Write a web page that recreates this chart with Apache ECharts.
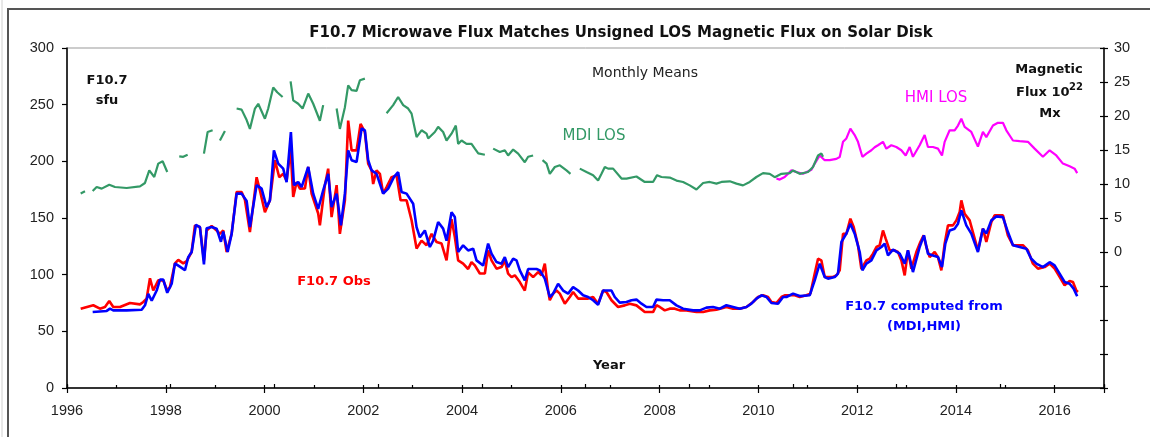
<!DOCTYPE html>
<html><head><meta charset="utf-8">
<script src="https://cdn.jsdelivr.net/npm/echarts@6/dist/echarts.min.js"></script>
<style>html,body{margin:0;padding:0;background:#fff}#c{width:1150px;height:437px}</style>
</head><body><div id="c"></div>
<script>
// ---- data (decimal year, value) ----
const obsT=[1996.277,1996.532,1996.668,1996.769,1996.856,1996.937,1997.073,1997.275,1997.478,1997.545,
1997.613,1997.68,1997.747,1997.848,1997.949,1998.03,1998.085,1998.186,1998.253,1998.354,
1998.423,1998.524,1998.591,1998.692,1998.773,1998.828,1998.929,1999.03,1999.097,1999.164,
1999.233,1999.265,1999.334,1999.435,1999.536,1999.603,1999.704,1999.84,1999.907,2000.008,
2000.109,2000.211,2000.298,2000.379,2000.447,2000.528,2000.581,2000.65,2000.717,2000.818,
2000.885,2000.953,2001.087,2001.121,2001.223,2001.289,2001.358,2001.46,2001.526,2001.628,
2001.694,2001.763,2001.864,2001.945,2002.032,2002.099,2002.168,2002.2,2002.269,2002.336,
2002.403,2002.472,2002.573,2002.674,2002.755,2002.877,2002.978,2003.079,2003.18,2003.281,
2003.383,2003.484,2003.585,2003.686,2003.787,2003.854,2003.921,2004.022,2004.123,2004.192,
2004.259,2004.36,2004.462,2004.528,2004.597,2004.698,2004.8,2004.866,2004.933,2005.002,
2005.069,2005.17,2005.271,2005.338,2005.439,2005.54,2005.609,2005.676,2005.743,2005.777,
2005.844,2005.913,2005.98,2006.081,2006.182,2006.249,2006.35,2006.553,2006.654,2006.755,
2006.856,2006.924,2007.026,2007.16,2007.296,2007.397,2007.532,2007.7,2007.868,2007.937,
2008.004,2008.105,2008.206,2008.308,2008.409,2008.545,2008.747,2008.881,2009.016,2009.152,
2009.354,2009.488,2009.623,2009.759,2009.893,2009.994,2010.095,2010.196,2010.265,2010.366,
2010.468,2010.534,2010.636,2010.737,2010.838,2010.973,2011.055,2011.142,2011.209,2011.277,
2011.344,2011.512,2011.581,2011.648,2011.715,2011.783,2011.864,2011.931,2012.018,2012.087,
2012.188,2012.255,2012.322,2012.391,2012.457,2012.524,2012.579,2012.66,2012.761,2012.828,
2012.897,2012.964,2013.03,2013.099,2013.2,2013.281,2013.348,2013.403,2013.47,2013.571,
2013.638,2013.706,2013.773,2013.84,2013.941,2014.01,2014.077,2014.111,2014.178,2014.279,
2014.447,2014.548,2014.617,2014.718,2014.785,2014.953,2015.054,2015.156,2015.358,2015.46,
2015.561,2015.662,2015.798,2015.899,2016.0,2016.101,2016.202,2016.304,2016.371,2016.439,
2016.472];
const obsV=[70,73,70,71.5,76.7,71.5,71.5,75,73.8,75.9,
78.9,96.8,86,95,95,86,89,110,113,110,
112,120,143.5,142,112.6,139,143,139,136,139,
120,118.5,136,173,173,166,137.6,186,174.4,155,
165.6,201,186,189,183,211,168.5,181.7,175.9,176,
195,171.5,154,143.5,179,193.5,150.8,179,136,165.6,
236,209.7,209.7,233,225.8,198,192,180,192,189,
171.5,177.3,186,187.6,165.6,165.6,148,123,130,125.9,
136,128.8,127.4,112.6,149,133.2,112.6,109.7,105,111.1,
108.2,101,101,121.4,112.6,105.3,106.7,112.6,100.9,97.9,
99.4,93.5,86,102,97.9,102.3,99.4,109.7,86,77.4,
83.3,86,83.3,74.4,80.3,84.7,78.9,78.9,80.3,74.4,
86,84.7,77.4,71.5,72.9,74.4,72.9,67,67,73,
71.5,68.5,70,70,68.5,68.5,67,67,68.5,69.1,
71.5,70,70,71.5,75.9,80.3,81.8,80.3,75.9,75,
80.3,81.8,81.8,81.8,80.3,81.8,83.3,101,114,112.6,
98,98,99.4,103.8,136,136,149.4,142,126,105,
112.6,114.1,118.5,124.4,125.9,139,131.8,121.4,121.4,120,
112.6,99.4,121.4,105.3,120,128.8,134.7,124.4,115.5,120,
115.5,103.8,127.4,143.5,143.5,147.9,155.2,165.6,153.8,147.9,
121.4,140.6,128.8,146.4,152.3,152.3,134.7,126,126,121.4,
109.7,105.3,106.7,109.7,105.3,98,90.6,94.4,93.5,86,
84.7];

const compT=[1996.52,1996.804,1996.87,1996.937,1997.208,1997.512,1997.579,1997.646,1997.715,1997.816,
1997.883,1997.949,1998.03,1998.12,1998.186,1998.389,1998.455,1998.524,1998.611,1998.692,
1998.773,1998.828,1998.929,1999.03,1999.117,1999.164,1999.253,1999.334,1999.435,1999.536,
1999.638,1999.704,1999.84,1999.941,2000.042,2000.109,2000.19,2000.277,2000.379,2000.447,
2000.534,2000.595,2000.682,2000.751,2000.885,2000.986,2001.087,2001.188,2001.289,2001.358,
2001.46,2001.547,2001.628,2001.694,2001.763,2001.864,2001.966,2002.032,2002.099,2002.168,
2002.269,2002.403,2002.504,2002.619,2002.706,2002.775,2002.877,2003.01,2003.079,2003.146,
2003.247,2003.348,2003.415,2003.516,2003.617,2003.686,2003.787,2003.854,2003.921,2004.022,
2004.123,2004.225,2004.293,2004.427,2004.528,2004.597,2004.698,2004.8,2004.866,2004.933,
2005.035,2005.103,2005.17,2005.271,2005.338,2005.508,2005.575,2005.676,2005.777,2005.844,
2005.945,2006.047,2006.148,2006.249,2006.35,2006.451,2006.553,2006.654,2006.755,2006.856,
2006.891,2007.026,2007.093,2007.194,2007.33,2007.431,2007.532,2007.634,2007.735,2007.868,
2007.937,2008.071,2008.206,2008.342,2008.476,2008.679,2008.814,2008.949,2009.083,2009.219,
2009.354,2009.488,2009.623,2009.759,2009.86,2009.961,2010.063,2010.164,2010.265,2010.399,
2010.502,2010.569,2010.704,2010.838,2011.04,2011.142,2011.243,2011.344,2011.411,2011.547,
2011.613,2011.682,2011.783,2011.864,2011.951,2012.053,2012.107,2012.188,2012.289,2012.391,
2012.492,2012.559,2012.626,2012.727,2012.862,2012.964,2013.03,2013.131,2013.267,2013.354,
2013.435,2013.536,2013.638,2013.719,2013.787,2013.874,2013.976,2014.043,2014.111,2014.212,
2014.313,2014.447,2014.548,2014.617,2014.718,2014.819,2014.953,2015.054,2015.156,2015.291,
2015.427,2015.528,2015.629,2015.763,2015.899,2016.0,2016.101,2016.202,2016.304,2016.385,
2016.457];
const compV=[67,68,70,68.5,68.5,69.1,73,83,77,86,
95.6,95.6,84,92,110,104,115.5,120,144,142,
109,141,142,140.6,129,138,120,136,171.5,171.5,
165,142,179,175.9,159.6,165.6,209.7,198,193.5,181.7,
225.8,179,181.7,177.3,195,171.5,158,174.4,189,159.6,
171.5,143.5,171.5,209.7,201,199.4,229,227.3,201,192,
189,171.5,175.9,186,190.5,173,171.5,162.6,142,133,
139,124.4,130,146.4,140.6,130,155,150.8,120,125.9,
121.4,122.9,112.6,108,127.4,118.5,111.1,109.7,115.5,106.7,
114,112.6,103.8,95,105,105,103.8,96.5,80.3,83.3,
92,86,83.3,89,86,81.8,80.3,77.4,73.5,86,
86.8,86,80.3,75.3,75.9,77.4,78,74.4,71.5,71.5,
78,77.4,77.4,72.9,70,68.5,68.5,70.9,71.5,70,
73,71.5,70,71.5,74.4,78.9,81.8,80.3,75,74.4,
80.3,80.3,83.3,81.1,81.8,95,109.7,97.9,96.5,97.9,
100.9,128.8,136.2,145,136.2,120,103.8,109.7,112.6,121.4,
124.4,127.4,117,122,118.5,109.7,121.4,102.3,124.4,134.7,
118.5,117,115.5,106.7,127.4,139,140.6,145,156.7,143.5,
136.2,120,140.6,136.2,147.9,151.4,150.8,137.6,125.9,124.4,
122.9,114,109.7,106.7,111,108.2,100.9,93.5,92,87.7,
80.9];

// MDI LOS magnetic flux (1e22 Mx); null = data gap
const mdiT=[1996.277,1996.364,1996.44,
1996.52,1996.601,1996.702,1996.856,1996.972,1997.208,1997.478,1997.579,1997.666,1997.767,1997.848,1997.937,1998.03,1998.15,
1998.273,1998.354,1998.443,1998.6,
1998.773,1998.848,1998.949,1999.02,
1999.097,1999.198,1999.3,
1999.435,1999.536,1999.638,1999.704,1999.806,1999.873,2000.008,2000.075,2000.176,2000.257,2000.366,2000.45,
2000.528,2000.581,2000.682,2000.771,2000.885,2000.986,2001.121,2001.188,2001.3,
2001.46,2001.526,2001.628,2001.694,2001.763,2001.864,2001.931,2002.032,2002.25,
2002.472,2002.605,2002.706,2002.808,2002.909,2002.978,2003.079,2003.18,2003.281,2003.314,2003.449,2003.516,2003.617,2003.686,2003.787,2003.874,2003.921,2003.99,2004.091,2004.192,2004.259,2004.328,2004.462,2004.55,
2004.63,2004.765,2004.866,2004.933,2005.035,2005.136,2005.271,2005.338,2005.439,2005.53,
2005.63,2005.711,2005.777,2005.879,2005.98,2006.115,2006.196,2006.29,
2006.385,2006.52,2006.654,2006.755,2006.824,2006.891,2006.957,2007.059,2007.229,2007.33,2007.532,2007.7,2007.868,2007.949,2008.038,2008.206,2008.342,2008.476,2008.611,2008.747,2008.881,2009.016,2009.152,2009.253,2009.423,2009.557,2009.69,2009.826,2009.961,2010.095,2010.231,2010.332,2010.468,2010.636,2010.704,2010.838,2011.006,2011.107,2011.209,2011.277,2011.31];
const mdiV=[8.6,8.93,null,
8.97,9.56,9.32,9.9,9.56,9.41,9.66,10.15,12.0,11.03,13.0,13.34,11.76,null,
14.07,14.0,14.3,null,
14.47,17.65,17.9,null,
16.4,17.8,null,
21.1,20.94,19.4,18.1,21.1,21.8,19.6,21.1,24.2,23.5,22.8,null,
25.1,22.3,21.8,21.1,23.3,21.8,19.3,21.6,null,
21.1,18.1,21.3,24.5,23.8,23.7,25.25,25.5,null,
20.4,21.6,22.8,21.6,21.1,20.35,16.9,17.9,17.4,16.7,17.65,18.4,17.65,16.4,17.4,18.6,15.9,16.4,15.9,15.9,15.2,14.5,14.3,null,
15.2,14.7,14.96,14.2,15.06,14.47,13.2,14.0,14.2,null,
13.5,13.0,11.5,12.5,12.75,12.0,11.5,null,
12.26,11.76,11.28,10.5,11.5,12.5,12.26,12.26,10.8,10.8,11.1,10.3,10.3,11.3,11.03,10.94,10.5,10.3,9.8,9.2,10.15,10.3,10.06,10.3,10.4,10.06,9.8,10.3,11.03,11.6,11.5,11.0,11.5,11.6,12.0,11.5,11.76,12.5,14.2,14.5,14.0];

// HMI LOS magnetic flux (1e22 Mx)
const hmiT=[2010.366,2010.433,2010.534,2010.67,2010.771,2010.905,2011.075,2011.142,2011.243,2011.344,
2011.445,2011.581,2011.648,2011.715,2011.783,2011.864,2011.951,2012.018,2012.107,2012.188,
2012.289,2012.356,2012.423,2012.524,2012.592,2012.693,2012.794,2012.896,2012.984,2013.065,
2013.131,2013.267,2013.368,2013.435,2013.536,2013.638,2013.719,2013.773,2013.874,2013.976,
2014.043,2014.111,2014.178,2014.212,2014.313,2014.447,2014.548,2014.617,2014.751,2014.852,
2014.953,2015.022,2015.156,2015.291,2015.46,2015.595,2015.763,2015.899,2016.034,2016.168,
2016.304,2016.405,2016.457];
const hmiV=[10.8,10.65,11.03,12.0,11.76,11.5,12.1,13.0,14.2,13.5,
13.5,13.7,13.97,16.2,16.7,18.15,17.2,16.2,14.0,14.47,
14.96,15.4,15.7,16.2,15.2,15.7,15.44,14.96,14.2,15.44,
14.0,15.7,17.2,15.44,15.44,15.2,14.2,16.2,17.9,17.9,
18.6,19.6,18.4,18.15,17.65,15.5,17.65,16.9,18.6,19.0,
19.0,17.9,16.4,16.3,16.2,15.2,14.0,14.96,14.2,13.0,
12.6,12.26,11.6];

const titleText='F10.7 Microwave Flux Matches Unsigned LOS Magnetic Flux on Solar Disk';

// ---- chart ----
const pair=(T,V)=>T.map((t,i)=>[t,V[i]]);
const chart=echarts.init(document.getElementById('c'),null,{renderer:'canvas'});
const lab={fontFamily:'Liberation Sans',fontSize:14.5,color:'#222'};
function txt(text,x,y,size,color,weight,align){
  return {type:'text',x:x,y:y,z:100,style:{text:text,fill:color,fontSize:size,fontWeight:weight||'normal',
    fontFamily:'DejaVu Sans',align:align||'center',verticalAlign:'middle'}};
}
const tickLine={color:'#000',width:1.2};
const option={
  animation:false,
  backgroundColor:'#fff',
  title:{text:titleText,left:616,top:21,textAlign:'center',
    textStyle:{fontFamily:'DejaVu Sans',fontWeight:'bold',fontSize:15,color:'#111'}},
  grid:{left:67,right:46,top:48,bottom:49,show:true,borderColor:'#999',borderWidth:1,backgroundColor:'#fff'},
  xAxis:[
    {type:'value',min:1996,max:2017,interval:2,position:'bottom',
     axisLine:{show:true,onZero:false,lineStyle:{color:'#000',width:1.5}},
     axisTick:{show:true,length:5,lineStyle:tickLine},
     axisLabel:Object.assign({margin:15,formatter:v=>(v%2===0&&v<2017)?String(v):''},lab),
     splitLine:{show:false}},
    {type:'value',min:1996,max:2017,interval:1,position:'bottom',
     axisLine:{show:false,onZero:false},axisTick:{show:true,inside:true,length:3,lineStyle:tickLine},
     axisLabel:{show:false},splitLine:{show:false}},
    {type:'value',min:1996,max:2016,interval:2,position:'bottom',
     axisLine:{show:false,onZero:false},axisTick:{show:true,inside:true,length:4,lineStyle:tickLine},
     axisLabel:{show:false},splitLine:{show:false}}
  ],
  yAxis:[
    {type:'value',min:0,max:300,interval:50,position:'left',
     axisLine:{show:true,onZero:false,lineStyle:{color:'#000',width:1.5}},
     axisTick:{show:true,length:5,lineStyle:tickLine},
     axisLabel:Object.assign({margin:13},lab),splitLine:{show:false}},
    {type:'value',min:-20,max:30,interval:5,position:'right',
     axisLine:{show:true,onZero:false,lineStyle:{color:'#000',width:1.5}},
     axisTick:{show:true,length:4,lineStyle:tickLine},
     axisLabel:Object.assign({margin:10,formatter:v=>v>=0?String(v):''},lab),splitLine:{show:false}},
    {type:'value',min:-20,max:30,interval:5,position:'right',
     axisLine:{show:false,onZero:false},axisTick:{show:true,inside:true,length:4,lineStyle:tickLine},
     axisLabel:{show:false},splitLine:{show:false}}
  ],
  series:[
    {name:'HMI LOS',type:'line',yAxisIndex:1,data:pair(hmiT,hmiV),showSymbol:false,symbol:'none',
     lineStyle:{color:'#ff00ff',width:2.2},z:2},
    {name:'MDI LOS',type:'line',yAxisIndex:1,data:pair(mdiT,mdiV),showSymbol:false,symbol:'none',connectNulls:false,
     lineStyle:{color:'#339966',width:2.2},z:3},
    {name:'F10.7 Obs',type:'line',data:pair(obsT,obsV),showSymbol:false,symbol:'none',
     lineStyle:{color:'#ff0000',width:2.6},z:4},
    {name:'F10.7 computed',type:'line',data:pair(compT,compV),showSymbol:false,symbol:'none',
     lineStyle:{color:'#0000ff',width:2.6},z:5}
  ],
  graphic:[
    {type:'line',z:-1,shape:{x1:2,y1:0,x2:2,y2:437},style:{stroke:'#d0d0d0',lineWidth:1}},
    {type:'rect',z:-1,shape:{x:8,y:9,width:1160,height:450},style:{fill:null,stroke:'#555',lineWidth:2}},
    txt('F10.7',107,81,13,'#111','bold'),
    txt('sfu',107,101,13,'#111','bold'),
    txt('Monthly Means',645,73,14,'#222','normal'),
    txt('MDI LOS',594,136,15,'#339966','normal'),
    txt('HMI LOS',936,98,15,'#ff00ff','normal'),
    txt('Magnetic',1049,70,13,'#111','bold'),
    txt('Flux 10',1016,93,13,'#111','bold','left'),
    txt('22',1069,87,10,'#111','bold','left'),
    txt('Mx',1050,114,13,'#111','bold'),
    txt('F10.7 Obs',334,282,13,'#ff0000','bold'),
    txt('F10.7 computed from',924,307,13,'#0000ff','bold'),
    txt('(MDI,HMI)',924,327,13,'#0000ff','bold'),
    txt('Year',609,366,13,'#111','bold')
  ]
};
chart.setOption(option);
</script></body></html>
